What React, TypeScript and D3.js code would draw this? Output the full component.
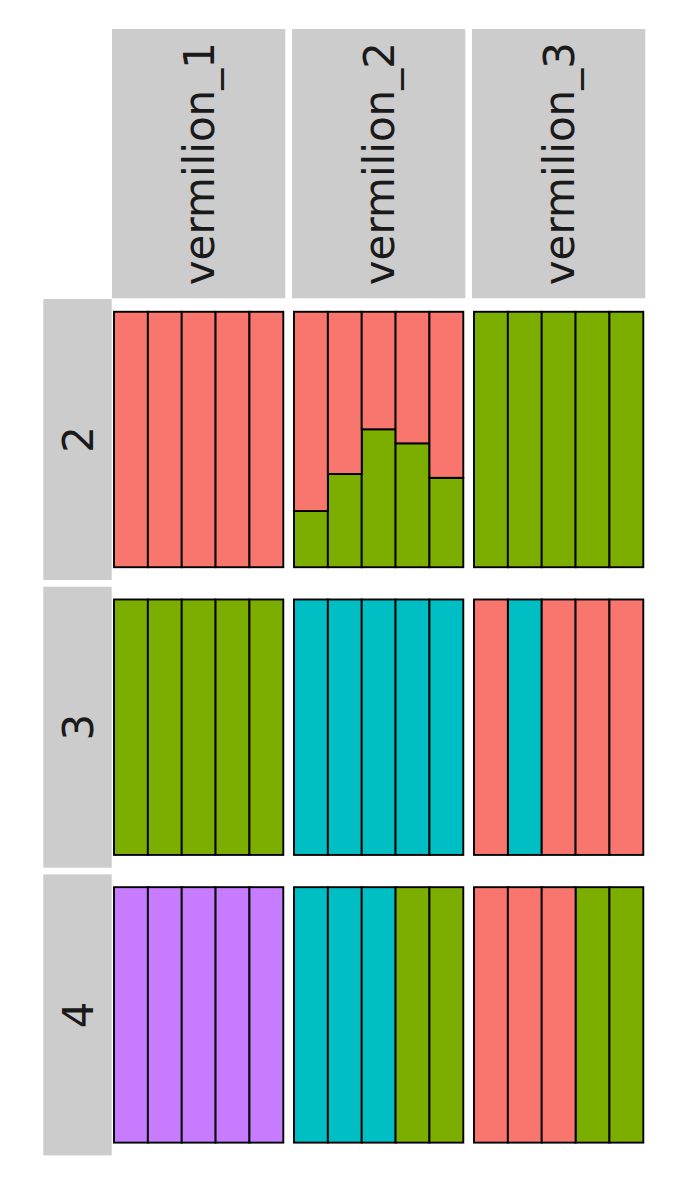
import { useEffect, useRef } from "react";
import * as d3 from "d3";

// facet labels
const columns = ["vermilion_1", "vermilion_2", "vermilion_3"];
const rows = ["2", "3", "4"];
const bars = ["1", "2", "3", "4", "5"];

// fill levels (ggplot hue palette)
const levels = ["a", "b", "c", "d"];
const levelColors = ["#F8766D", "#7CAE00", "#00BFC4", "#C77CFF"];

// shares per bar: [a, b, c, d]
const r2v1 = [[1, 0, 0, 0], [1, 0, 0, 0], [1, 0, 0, 0], [1, 0, 0, 0], [1, 0, 0, 0]];
const r2v2 = [[0.78, 0.22, 0, 0], [0.635, 0.365, 0, 0], [0.46, 0.54, 0, 0], [0.515, 0.485, 0, 0], [0.65, 0.35, 0, 0]];
const r2v3 = [[0, 1, 0, 0], [0, 1, 0, 0], [0, 1, 0, 0], [0, 1, 0, 0], [0, 1, 0, 0]];
const r3v1 = [[0, 1, 0, 0], [0, 1, 0, 0], [0, 1, 0, 0], [0, 1, 0, 0], [0, 1, 0, 0]];
const r3v2 = [[0, 0, 1, 0], [0, 0, 1, 0], [0, 0, 1, 0], [0, 0, 1, 0], [0, 0, 1, 0]];
const r3v3 = [[1, 0, 0, 0], [0, 0, 1, 0], [1, 0, 0, 0], [1, 0, 0, 0], [1, 0, 0, 0]];
const r4v1 = [[0, 0, 0, 1], [0, 0, 0, 1], [0, 0, 0, 1], [0, 0, 0, 1], [0, 0, 0, 1]];
const r4v2 = [[0, 0, 1, 0], [0, 0, 1, 0], [0, 0, 1, 0], [0, 1, 0, 0], [0, 1, 0, 0]];
const r4v3 = [[1, 0, 0, 0], [1, 0, 0, 0], [1, 0, 0, 0], [0, 1, 0, 0], [0, 1, 0, 0]];

const panelData = [
  [r2v1, r2v2, r2v3],
  [r3v1, r3v2, r3v3],
  [r4v1, r4v2, r4v3],
];

const App = () => {
  const svgRef = useRef<SVGSVGElement | null>(null);

  useEffect(() => {
    if (!svgRef.current) return;
    const svg = d3.select(svgRef.current);
    svg.selectAll("*").remove();

    const font = "'DejaVu Sans', sans-serif";

    // facet grid
    const colX = d3.scaleBand().domain(columns).range([112, 645.3]).paddingInner(0.0372);
    const rowY = d3.scaleBand().domain(rows).range([299, 1155.4]).paddingInner(0.0233);
    const pw = colX.bandwidth();
    const ph = rowY.bandwidth();

    const x = d3.scaleBand().domain(bars).range([2, pw - 2]).padding(0);
    const y = d3.scaleLinear().domain([-0.05, 1.05]).range([ph, 0]);
    const color = d3.scaleOrdinal<string, string>().domain(levels).range(levelColors);

    // first level on top, like ggplot
    const stack = d3.stack<number[]>()
      .keys(levels.slice().reverse())
      .value((d, key) => d[levels.indexOf(key)]);

    // column strips
    const colStrip = svg.append("g");
    columns.forEach((c) => {
      colStrip.append("rect")
        .attr("x", colX(c)!)
        .attr("y", 29)
        .attr("width", pw)
        .attr("height", 269.3)
        .attr("fill", "#CCCCCC");
      colStrip.append("text")
        .attr("transform", `translate(${colX(c)! + pw / 2},${29 + 269.3 / 2}) rotate(-90)`)
        .attr("dy", "0.36em")
        .attr("text-anchor", "middle")
        .style("font-family", font)
        .style("font-size", "42px")
        .style("fill", "#1A1A1A")
        .text(c);
    });

    // row strips
    const rowStrip = svg.append("g");
    rows.forEach((r) => {
      rowStrip.append("rect")
        .attr("x", 43.3)
        .attr("y", rowY(r)!)
        .attr("width", 111.7 - 43.3)
        .attr("height", ph)
        .attr("fill", "#CCCCCC");
      rowStrip.append("text")
        .attr("transform", `translate(${(43.3 + 111.7) / 2},${rowY(r)! + ph / 2}) rotate(-90)`)
        .attr("dy", "0.36em")
        .attr("text-anchor", "middle")
        .style("font-family", font)
        .style("font-size", "42px")
        .style("fill", "#1A1A1A")
        .text(r);
    });

    // panels
    rows.forEach((r, ri) => {
      columns.forEach((c, ci) => {
        const g = svg.append("g")
          .attr("transform", `translate(${colX(c)},${rowY(r)})`);
        const series = stack(panelData[ri][ci]);
        series.forEach((s) => {
          s.forEach((seg, bi) => {
            if (seg[1] - seg[0] <= 0) return;
            g.append("rect")
              .attr("x", x(bars[bi])!)
              .attr("y", y(seg[1]))
              .attr("width", x.bandwidth())
              .attr("height", y(seg[0]) - y(seg[1]))
              .attr("fill", color(s.key))
              .attr("stroke", "#000")
              .attr("stroke-width", 1.9);
          });
        });
      });
    });
  }, []);

  return (
    <svg
      ref={svgRef}
      width={675}
      height={1200}
      style={{ position: "absolute", left: 0, top: 0, background: "#fff" }}
    />
  );
};

export default App;
